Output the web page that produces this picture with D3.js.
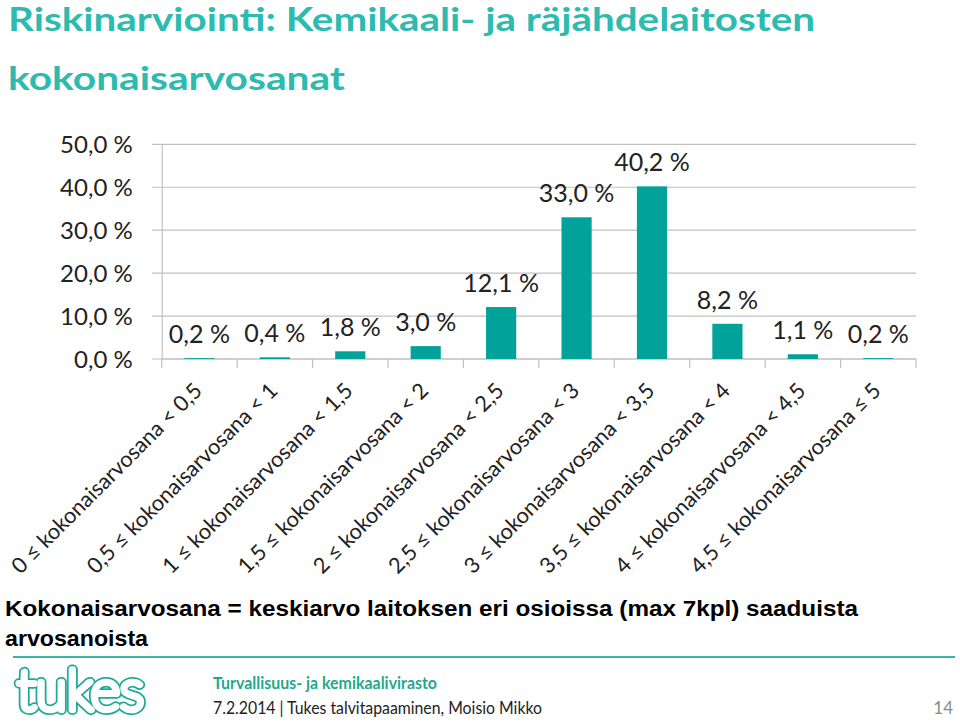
<!DOCTYPE html>
<html>
<head>
<meta charset="utf-8">
<script src="https://cdn.jsdelivr.net/npm/d3@7"></script>
<style>
  html, body { margin: 0; padding: 0; background: #fff; }
  svg { display: block; }
</style>
</head>
<body>
<svg id="chart" width="960" height="723"></svg>
<script>
const categories = [
  "0 ≤ kokonaisarvosana < 0,5",
  "0,5 ≤ kokonaisarvosana < 1",
  "1 ≤ kokonaisarvosana < 1,5",
  "1,5 ≤ kokonaisarvosana < 2",
  "2 ≤ kokonaisarvosana < 2,5",
  "2,5 ≤ kokonaisarvosana < 3",
  "3 ≤ kokonaisarvosana < 3,5",
  "3,5 ≤ kokonaisarvosana < 4",
  "4 ≤ kokonaisarvosana < 4,5",
  "4,5 ≤ kokonaisarvosana ≤ 5"
];
const values = [0.2, 0.4, 1.8, 3.0, 12.1, 33.0, 40.2, 8.2, 1.1, 0.2];
const yTicks = [0, 10, 20, 30, 40, 50];
const titleLines = ["Riskinarviointi: Kemikaali- ja räjähdelaitosten", "kokonaisarvosanat"];
const noteLines = ["Kokonaisarvosana = keskiarvo laitoksen eri osioissa (max 7kpl) saaduista", "arvosanoista"];
const footerOrg = "Turvallisuus- ja kemikaalivirasto";
const footerInfo = "7.2.2014 | Tukes talvitapaaminen, Moisio Mikko";
const pageNumber = "14";
const logoText = "tukes";

const svg = d3.select("#chart");
const FONT = "Lato, 'Open Sans', sans-serif";
const TEAL_TITLE = "#2dbbb0";
const BAR = "#00a29a";
const GRID = "#c0c0c0";

const fmt = v => v.toFixed(1).replace(".", ",") + " %";

// Title
svg.selectAll("text.title").data(titleLines).join("text")
  .attr("class", "title")
  .attr("x", 8)
  .attr("y", (d, i) => 31 + i * 59)
  .attr("font-family", FONT)
  .attr("font-weight", "bold")
  .attr("font-size", 32)
  .attr("fill", TEAL_TITLE)
  .attr("textLength", (d, i) => i === 0 ? 807 : 337)
  .attr("lengthAdjust", "spacingAndGlyphs")
  .text(d => d);

// Scales
const x = d3.scaleBand().domain(categories).range([161.7, 916]).paddingInner(0.6).paddingOuter(0.3);
const y = d3.scaleLinear().domain([0, 50]).range([359, 144.3]);

// Gridlines
svg.append("g").selectAll("line").data(yTicks).join("line")
  .attr("x1", 152).attr("x2", 916)
  .attr("y1", d => y(d)).attr("y2", d => y(d))
  .attr("stroke", GRID).attr("stroke-width", 1.2);

// Y axis
const yAxis = svg.append("g").attr("transform", "translate(161.7,0)")
  .call(d3.axisLeft(y).tickValues(yTicks).tickFormat(fmt).tickSize(0).tickPadding(29));
yAxis.select(".domain").attr("stroke", GRID).attr("stroke-width", 1.2);
yAxis.selectAll("text")
  .attr("font-family", FONT).attr("font-size", 24).attr("fill", "#222").attr("dy", "0.35em");

// X axis baseline with boundary ticks
const step = x.step();
const boundaries = categories.map(c => x(c) + x.bandwidth() / 2 - step / 2).concat([x.range()[1]]);
svg.append("line").attr("x1", 161.7).attr("x2", 916).attr("y1", y(0)).attr("y2", y(0))
  .attr("stroke", GRID).attr("stroke-width", 1.2);
svg.append("g").selectAll("line").data(boundaries).join("line")
  .attr("x1", d => d).attr("x2", d => d)
  .attr("y1", y(0)).attr("y2", y(0) + 9)
  .attr("stroke", GRID).attr("stroke-width", 1.2);

// Bars
svg.append("g").selectAll("rect").data(values).join("rect")
  .attr("x", (d, i) => x(categories[i]))
  .attr("width", x.bandwidth())
  .attr("y", d => y(d))
  .attr("height", d => y(0) - y(d))
  .attr("fill", BAR);

// Data labels
svg.append("g").selectAll("text").data(values).join("text")
  .attr("x", (d, i) => x(categories[i]) + x.bandwidth() / 2)
  .attr("y", d => y(d) - 15)
  .attr("text-anchor", "middle")
  .attr("font-family", FONT).attr("font-size", 25).attr("fill", "#222")
  .text(fmt);

// X labels rotated
const xl = svg.append("g").selectAll("text").data(categories).join("text")
  .attr("transform", d => `translate(${x(d) + x.bandwidth() / 2 + 4},392) rotate(-45)`)
  .attr("text-anchor", "end")
  .attr("font-family", FONT).attr("font-size", 21).attr("fill", "#222")
  .text(d => d);
const natural = xl.node().getComputedTextLength();
xl.attr("font-size", 21 * 259 / natural);

// Note
svg.selectAll("text.note").data(noteLines).join("text")
  .attr("class", "note")
  .attr("x", 5)
  .attr("y", (d, i) => 616 + i * 30)
  .attr("font-family", "'Liberation Sans', Arial, sans-serif")
  .attr("font-weight", "bold")
  .attr("font-size", 22)
  .attr("fill", "#000")
  .attr("textLength", (d, i) => i === 0 ? 853 : 143)
  .attr("lengthAdjust", "spacingAndGlyphs")
  .text(d => d);

// Footer rule
svg.append("line").attr("x1", 13).attr("x2", 955).attr("y1", 657).attr("y2", 657)
  .attr("stroke", "#3ab3a8").attr("stroke-width", 2);

// Logo: hollow tube-like letters
const logo = svg.append("g");
[["#20a99a", 10], ["#ffffff", 6.5]].forEach(([col, w]) => {
  logo.append("text").attr("x", 17).attr("y", 710)
    .attr("font-family", FONT).attr("font-weight", 100).attr("font-size", 56)
    .attr("textLength", 127).attr("lengthAdjust", "spacingAndGlyphs")
    .attr("fill", col).attr("stroke", col).attr("stroke-width", w)
    .attr("stroke-linejoin", "round").attr("stroke-linecap", "round")
    .text(logoText);
});

// Footer texts
svg.append("text").attr("x", 213).attr("y", 689)
  .attr("font-family", FONT).attr("font-weight", "bold").attr("font-size", 17)
  .attr("fill", "#1fa98c").attr("textLength", 224).attr("lengthAdjust", "spacingAndGlyphs")
  .text(footerOrg);
svg.append("text").attr("x", 213).attr("y", 714)
  .attr("font-family", FONT).attr("font-size", 18)
  .attr("fill", "#222").attr("textLength", 329).attr("lengthAdjust", "spacingAndGlyphs")
  .text(footerInfo);
svg.append("text").attr("x", 953).attr("y", 714)
  .attr("text-anchor", "end")
  .attr("font-family", FONT).attr("font-size", 17)
  .attr("fill", "#8a8a8a")
  .text(pageNumber);
</script>
</body>
</html>
